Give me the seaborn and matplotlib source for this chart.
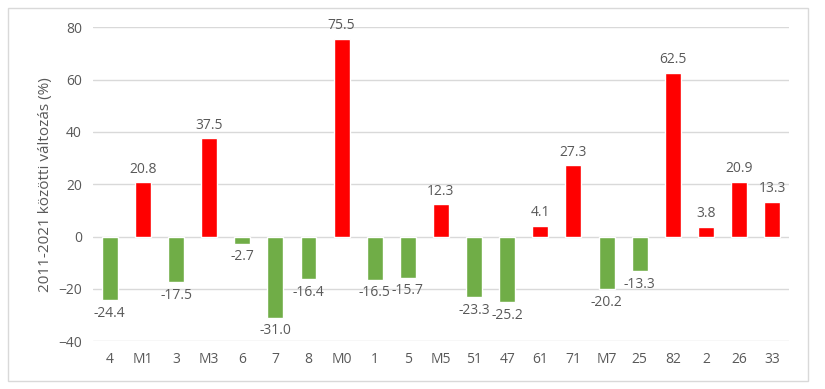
import seaborn as sns
import matplotlib.pyplot as plt
import pandas as pd
from matplotlib.patches import Rectangle

categories = ["4", "M1", "3", "M3", "6", "7", "8", "M0", "1", "5", "M5",
              "51", "47", "61", "71", "M7", "25", "82", "2", "26", "33"]
values = [-24.4, 20.8, -17.5, 37.5, -2.7, -31.0, -16.4, 75.5, -16.5, -15.7, 12.3,
          -23.3, -25.2, 4.1, 27.3, -20.2, -13.3, 62.5, 3.8, 20.9, 13.3]

df = pd.DataFrame({"cat": categories, "val": values})
df["sign"] = ["pos" if v > 0 else "neg" for v in values]

sns.set_style("white")
plt.rcParams["font.family"] = ["Open Sans", "DejaVu Sans"]
text_col = "#595959"

fig = plt.figure(figsize=(8.25, 3.89), dpi=100)
ax = fig.add_axes([0.113, 0.123, 0.843, 0.807])

sns.barplot(data=df, x="cat", y="val", hue="sign",
            palette={"pos": "#FF0000", "neg": "#70AD47"},
            dodge=False, width=0.48, legend=False, ax=ax, saturation=1)

for c in ax.containers:
    ax.bar_label(c, fmt="%.1f", padding=4, fontsize=10, color=text_col)

ax.set_ylim(-40, 80)
ax.set_yticks(range(-40, 81, 20))
ax.yaxis.grid(True, color="#d9d9d9", linewidth=1)
ax.set_axisbelow(True)
for s in ax.spines.values():
    s.set_visible(False)
ax.tick_params(axis="both", length=0, labelsize=10, labelcolor=text_col, pad=8)
ax.set_xlabel("")
ax.set_ylabel("2011-2021 közötti változás (%)", fontsize=11, color=text_col)

fig.patches.append(Rectangle((8 / 825, 8 / 389), 800 / 825, 373 / 389,
                             transform=fig.transFigure, fill=False,
                             edgecolor="#d9d9d9", linewidth=1))

fig.savefig("out.png", dpi=100)
